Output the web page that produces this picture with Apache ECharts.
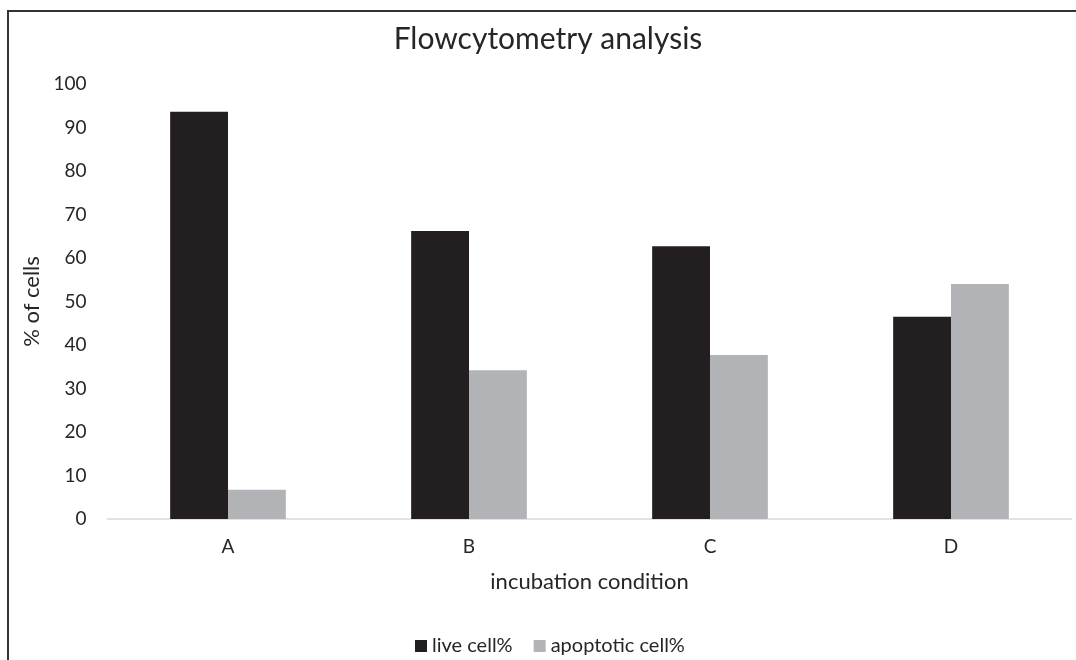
<!DOCTYPE html>
<html>
<head>
<meta charset="utf-8">
<script src="https://cdn.jsdelivr.net/npm/echarts@6/dist/echarts.min.js"></script>
<style>html,body{margin:0;padding:0;background:#fff;}#c{width:1076px;height:660px;}</style>
</head>
<body>
<div id="c"></div>
<script>
const categories = ['A', 'B', 'C', 'D'];
const liveCell = [93.6, 66.2, 62.7, 46.5];
const apoptoticCell = [6.7, 34.2, 37.7, 54.0];
const yTicks = [0, 10, 20, 30, 40, 50, 60, 70, 80, 90, 100];

const FONT = 'Lato';
const TXT = '#262626';
const chart = echarts.init(document.getElementById('c'));
chart.setOption({
  backgroundColor: '#fff',
  animation: false,
  graphic: [{
    type: 'polyline', shape: { points: [[8, 665], [8, 11], [1080, 11]] },
    style: { fill: 'none', stroke: '#333', lineWidth: 2 }, silent: true
  }],
  title: {
    text: 'Flowcytometry analysis', left: 543, top: 19, textAlign: 'center',
    textStyle: { fontFamily: FONT, fontSize: 30, fontWeight: 'normal', color: TXT }
  },
  legend: {
    top: 631, left: 410, itemWidth: 12, itemHeight: 12, itemGap: 21,
    icon: 'rect',
    textStyle: { fontFamily: FONT, fontSize: 20, color: TXT },
    data: ['live cell%', 'apoptotic cell%']
  },
  grid: { left: 107.5, right: 4.5, top: 84, bottom: 141, containLabel: false },
  xAxis: {
    type: 'category', data: categories,
    name: 'incubation condition', nameLocation: 'middle', nameGap: 52,
    nameTextStyle: { fontFamily: FONT, fontSize: 22, color: TXT },
    axisLine: { lineStyle: { color: '#d9d9d9', width: 1.5 } },
    axisTick: { show: false },
    axisLabel: { fontFamily: FONT, fontSize: 19, color: TXT, margin: 18 }
  },
  yAxis: {
    type: 'value', min: yTicks[0], max: yTicks[yTicks.length - 1], interval: 10,
    name: '% of cells', nameLocation: 'middle', nameGap: 59, nameRotate: 90,
    nameTextStyle: { fontFamily: FONT, fontSize: 22, color: TXT },
    axisLine: { show: false }, axisTick: { show: false },
    splitLine: { show: false },
    axisLabel: { fontFamily: FONT, fontSize: 19, color: TXT, margin: 21 }
  },
  series: [
    { name: 'live cell%', type: 'bar', data: liveCell, barGap: '0%', barCategoryGap: '52%',
      itemStyle: { color: '#231f20' } },
    { name: 'apoptotic cell%', type: 'bar', data: apoptoticCell, barGap: '0%', barCategoryGap: '52%',
      itemStyle: { color: '#b1b3b6' } }
  ]
});
</script>
</body>
</html>
